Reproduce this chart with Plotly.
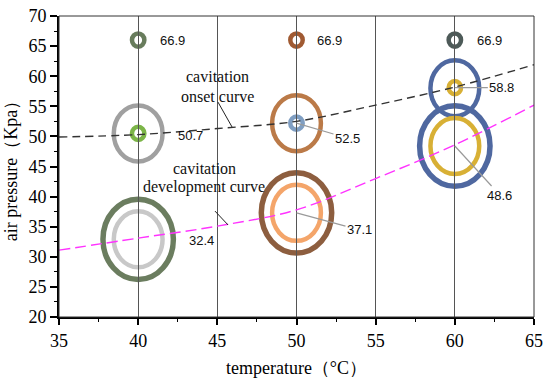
import plotly.graph_objects as go

# ---- data ----
onset_temp = [35, 40, 45, 50, 55, 60, 65]
onset_pressure = [49.9, 50.3, 51.3, 52.5, 55.2, 58.2, 61.9]
dev_temp = [35, 40, 45, 50, 55, 60, 65]
dev_pressure = [31.1, 33.1, 35.1, 37.8, 43.0, 48.6, 55.2]

ring_temp = [40, 40, 40, 40, 40, 50, 50, 50, 50, 50, 60, 60, 60, 60, 60]
ring_pressure = [66.0, 50.5, 50.5, 32.9, 32.9,
                 66.0, 52.2, 52.2, 37.3, 37.3,
                 66.0, 58.0, 58.1, 48.4, 48.4]
ring_kind = ["s", "m", "s", "l", "m",
             "s", "m", "s", "l", "m",
             "s", "m", "s", "l", "m"]
ring_color = ["#687c5c", "#a0a0a0", "#7cb548", "#6b7d5f", "#c8c8c8",
              "#a05a32", "#bb7a48", "#7f9ec2", "#8d5e3f", "#f4a56a",
              "#4d5a58", "#4f68a0", "#d8b035", "#4f68a0", "#d8b035"]

label_temp = [40, 50, 60, 40, 50, 60, 40, 50, 60]
label_pressure = [66.0, 66.0, 66.0, 50.5, 52.2, 58.1, 32.9, 37.3, 48.4]
label_text = ["66.9", "66.9", "66.9", "50.7", "52.5", "58.8", "32.4", "37.1", "48.6"]
label_leader = [False, False, False, False, True, True, False, True, True]
label_off = [(34, 0), (33, 0), (35, 0), (52, 2), (51, 15), (47, 0), (63, 1), (63, 17), (45, 49)]

x_ticks = [35, 40, 45, 50, 55, 60, 65]
y_ticks = [20, 25, 30, 35, 40, 45, 50, 55, 60, 65, 70]

# ---- styles ----
ring_size = {"s": (6.2, 6.6, 4.5), "m": (24.4, 28.0, 4.5), "l": (35.2, 40.2, 5.5)}
serif = "Liberation Serif, Times New Roman, serif"
sans = "Liberation Sans, Arial, sans-serif"

fig = go.Figure()

fig.add_trace(go.Scatter(x=onset_temp, y=onset_pressure, mode="lines",
                         line=dict(color="#333333", width=1.4, dash="8px,5px", shape="spline"),
                         hoverinfo="skip", showlegend=False))
fig.add_trace(go.Scatter(x=dev_temp, y=dev_pressure, mode="lines",
                         line=dict(color="#ff33ff", width=1.4, dash="11px,5px", shape="spline"),
                         hoverinfo="skip", showlegend=False))

shapes = []
order = [i for i in range(len(ring_temp)) if ring_kind[i] == "l"] + \
        [i for i in range(len(ring_temp)) if ring_kind[i] == "m"] + \
        [i for i in range(len(ring_temp)) if ring_kind[i] == "s"]
for i in order:
    rx, ry, lw = ring_size[ring_kind[i]]
    shapes.append(dict(type="circle", xref="x", yref="y",
                       xsizemode="pixel", ysizemode="pixel",
                       xanchor=ring_temp[i], yanchor=ring_pressure[i],
                       x0=-rx, x1=rx, y0=-ry, y1=ry,
                       line=dict(color=ring_color[i], width=lw),
                       layer="below"))

# pointer lines for curve captions
shapes.append(dict(type="line", xref="x", yref="y", x0=45.04, y0=55.7, x1=45.93, y1=51.56,
                   line=dict(color="#222", width=1)))
shapes.append(dict(type="line", xref="x", yref="y", x0=44.85, y0=37.6, x1=45.68, y1=35.28,
                   line=dict(color="#222", width=1)))
# frame top/right
shapes.append(dict(type="rect", xref="paper", yref="paper", x0=0, y0=0, x1=1, y1=1,
                   line=dict(color="#333", width=1), layer="above"))

annotations = []
for i in range(len(label_text)):
    ax, ay = label_off[i]
    annotations.append(dict(x=label_temp[i], y=label_pressure[i], xref="x", yref="y",
                            text=label_text[i], showarrow=True, ax=ax, ay=ay,
                            arrowhead=0, arrowwidth=1.2,
                            arrowcolor="#9a9a9a" if label_leader[i] else "rgba(0,0,0,0)",
                            font=dict(family=sans, size=13, color="#111")))

for txt, x, y in [("cavitation", 44.98, 59.87), ("onset curve", 45.0, 56.55),
                  ("cavitation", 44.22, 44.75), ("development curve", 44.16, 41.6)]:
    annotations.append(dict(x=x, y=y, xref="x", yref="y", text=txt, showarrow=False,
                            font=dict(family=serif, size=16, color="#111")))

fig.update_layout(
    width=550, height=384,
    margin=dict(l=59, r=16, t=16, b=67, autoexpand=False),
    paper_bgcolor="white", plot_bgcolor="white",
    shapes=shapes, annotations=annotations,
    showlegend=False,
    xaxis=dict(range=[35, 65], tickvals=x_ticks, ticks="outside", ticklen=6, tickwidth=1.5,
               tickcolor="black", showline=True, linecolor="black", linewidth=2,
               showgrid=True, gridcolor="#555555", gridwidth=1.2, zeroline=False,
               minor=dict(dtick=2.5, tick0=35, ticks="outside", ticklen=3, tickwidth=1.2,
                          tickcolor="black", showgrid=False),
               tickfont=dict(family=serif, size=18, color="black"),
               title=dict(text="temperature（°C）", standoff=12,
                          font=dict(family=serif, size=18, color="black"))),
    yaxis=dict(range=[20, 70], tickvals=y_ticks, ticks="outside", ticklen=7, tickwidth=1.5,
               tickcolor="black", showline=True, linecolor="black", linewidth=2,
               showgrid=False, zeroline=False,
               minor=dict(dtick=2.5, tick0=20, ticks="outside", ticklen=3, tickwidth=1.2,
                          tickcolor="black", showgrid=False),
               tickfont=dict(family=serif, size=18, color="black"),
               title=dict(text="air pressure（Kpa）", standoff=6,
                          font=dict(family=serif, size=18, color="black"))),
)

fig.write_html("out.html", config={"displayModeBar": False},
               post_script="document.body.style.margin='0';")
